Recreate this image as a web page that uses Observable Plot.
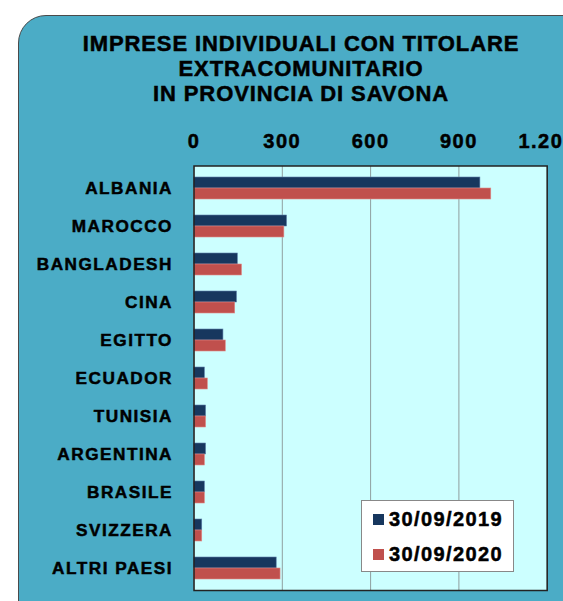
<!DOCTYPE html>
<html>
<head>
<meta charset="utf-8">
<script src="https://cdn.jsdelivr.net/npm/d3@7"></script>
<script src="https://cdn.jsdelivr.net/npm/@observablehq/plot@0.6"></script>
<style>
  html, body { margin: 0; padding: 0; background: #fff; overflow: hidden; }
  #wrap { position: relative; width: 563px; height: 601px; overflow: hidden; }
  #panel { position: absolute; left: 18px; top: 15px; width: 620px; height: 640px;
           background: #4BACC6; border: 1.5px solid #4a4a4a; border-radius: 28px; box-sizing: border-box; }
  #title { position: absolute; left: 0; top: 31px; width: 602px; text-align: center;
           font-family: "Liberation Sans", Arial, sans-serif; font-weight: bold; font-size: 22px;
           line-height: 25px; color: #000; letter-spacing: 0.9px; -webkit-text-stroke: 0.5px #000; }
  #chart { position: absolute; left: 0; top: 120px; }
  #chart text { stroke: #000; stroke-width: 0.5px; }
  #legend { position: absolute; left: 361px; top: 500px; width: 153px; height: 72px; box-sizing: border-box;
            background: #fff; border: 1px solid #888; font-family: "Liberation Sans", Arial, sans-serif;
            font-weight: bold; font-size: 20px; letter-spacing: 1.4px; color: #000; -webkit-text-stroke: 0.5px #000; }
  .item { position: absolute; left: 11px; display: flex; align-items: center; }
  .sw { width: 11px; height: 11px; margin-right: 5px; }
</style>
</head>
<body>
<div id="wrap">
  <div id="panel"></div>
  <div id="title">IMPRESE INDIVIDUALI CON TITOLARE<br>EXTRACOMUNITARIO<br>IN PROVINCIA DI SAVONA</div>
  <div id="chart"></div>
  <div id="legend"></div>
</div>
<script>
const countries = ["ALBANIA", "MAROCCO", "BANGLADESH", "CINA", "EGITTO", "ECUADOR", "TUNISIA", "ARGENTINA", "BRASILE", "SVIZZERA", "ALTRI PAESI"];
const v2019 = [973, 316, 149, 146, 100, 37, 41, 41, 37, 28, 281];
const v2020 = [1010, 307, 163, 140, 108, 47, 41, 37, 37, 28, 294];
const seriesNames = ["30/09/2019", "30/09/2020"];
const seriesColors = ["#17375E", "#C0504D"];
const xTicks = [0, 300, 600, 900, 1200];

const itFormat = d3.formatLocale({decimal: ",", thousands: ".", grouping: [3], currency: ["", "€"]}).format(",");

const rows2019 = countries.map((c, i) => ({country: c, value: v2019[i]}));
const rows2020 = countries.map((c, i) => ({country: c, value: v2020[i]}));

const chart = Plot.plot({
  width: 563,
  height: 481,
  marginLeft: 193.5,
  marginRight: 16.3,
  marginTop: 45.5,
  marginBottom: 11,
  style: {fontFamily: "Liberation Sans, Arial, sans-serif", fontWeight: "bold", background: "transparent", color: "#000", letterSpacing: "1.5px", overflow: "visible"},
  x: {domain: [0, 1200], label: null},
  y: {domain: countries, paddingInner: 0.43, paddingOuter: 0.215, label: null},
  marks: [
    Plot.frame({fill: "#CCFFFF", stroke: null}),
    Plot.gridX(xTicks, {stroke: "#8f9f9f", strokeOpacity: 1, strokeWidth: 1}),
    Plot.barX(rows2019, {y: "country", x: "value", fill: seriesColors[0], insetBottom: 11, stroke: "#5c7fa8", strokeWidth: 0.6}),
    Plot.barX(rows2020, {y: "country", x: "value", fill: seriesColors[1], insetTop: 11, stroke: "#e08a88", strokeWidth: 0.6}),
    Plot.frame({stroke: "#222", strokeWidth: 1.5}),
    Plot.axisX({anchor: "top", ticks: xTicks, tickFormat: itFormat, tickSize: 0, tickPadding: 18, fontSize: 20, label: null}),
    Plot.axisY({anchor: "left", tickSize: 0, tickPadding: 21, fontSize: 17.2, label: null})
  ]
});
document.getElementById("chart").appendChild(chart);

const legend = document.getElementById("legend");
seriesNames.forEach((name, i) => {
  const item = document.createElement("div");
  item.className = "item";
  item.style.top = (i === 0 ? 7 : 42) + "px";
  const sw = document.createElement("div");
  sw.className = "sw";
  sw.style.background = seriesColors[i];
  const t = document.createElement("span");
  t.textContent = name;
  item.appendChild(sw);
  item.appendChild(t);
  legend.appendChild(item);
});
</script>
</body>
</html>
